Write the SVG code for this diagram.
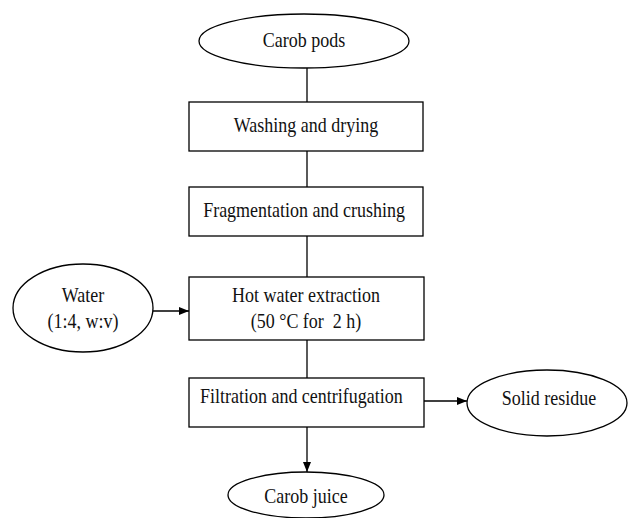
<svg xmlns="http://www.w3.org/2000/svg" width="628" height="518" viewBox="0 0 628 518">
<style>
.s{fill:#fff;stroke:#000;stroke-width:1.3}
.t{font-family:"Liberation Serif","Times New Roman",serif;font-size:18px;fill:#111;text-anchor:middle}
.c{stroke:#000;stroke-width:1.3;fill:none}
</style>
<defs>
<marker id="a" markerWidth="10" markerHeight="8" refX="10" refY="4" orient="auto" markerUnits="userSpaceOnUse">
<path d="M0,0 L10,4 L0,8 z" fill="#000"/>
</marker>
</defs>
<rect width="628" height="518" fill="#fff"/>
<g id="connectors">
<line class="c" x1="307" y1="68" x2="307" y2="102"/>
<line class="c" x1="307" y1="151" x2="307" y2="187"/>
<line class="c" x1="307" y1="236" x2="307" y2="277"/>
<line class="c" x1="153" y1="311" x2="189" y2="311" marker-end="url(#a)"/>
<line class="c" x1="307" y1="340" x2="307" y2="378"/>
<line class="c" x1="424" y1="401" x2="467" y2="401" marker-end="url(#a)"/>
<line class="c" x1="307" y1="427" x2="307" y2="472" marker-end="url(#a)"/>
</g>
<g id="carob-pods">
<ellipse class="s" cx="304" cy="41" rx="105" ry="27"/>
<text class="t" transform="translate(304,47) scale(1,1.15)">Carob pods</text>
</g>
<g id="washing">
<rect class="s" x="189" y="102" width="234" height="49"/>
<text class="t" transform="translate(306,132) scale(1,1.15)">Washing and drying</text>
</g>
<g id="fragmentation">
<rect class="s" x="189" y="187" width="234" height="49"/>
<text class="t" transform="translate(304,217) scale(1,1.15)">Fragmentation and crushing</text>
</g>
<g id="water">
<ellipse class="s" cx="83" cy="308" rx="70" ry="44"/>
<text class="t" transform="translate(83,302) scale(1,1.15)">Water</text>
<text class="t" transform="translate(83,328) scale(1,1.15)">(1:4, w:v)</text>
</g>
<g id="hot-water">
<rect class="s" x="189" y="277" width="235" height="63"/>
<text class="t" transform="translate(306,302) scale(1,1.15)">Hot water extraction</text>
<text class="t" transform="translate(306,328) scale(1,1.15)">(50 °C for&#160; 2 h)</text>
</g>
<g id="filtration">
<rect class="s" x="189" y="378" width="235" height="49"/>
<text class="t" transform="translate(200,403) scale(1,1.15)" style="text-anchor:start">Filtration and centrifugation</text>
</g>
<g id="solid-residue">
<ellipse class="s" cx="547" cy="403" rx="80" ry="33"/>
<text class="t" transform="translate(549,405) scale(1,1.15)">Solid residue</text>
</g>
<g id="carob-juice">
<ellipse class="s" cx="306" cy="495" rx="78" ry="23"/>
<text class="t" transform="translate(306,503) scale(1,1.15)">Carob juice</text>
</g>
</svg>
